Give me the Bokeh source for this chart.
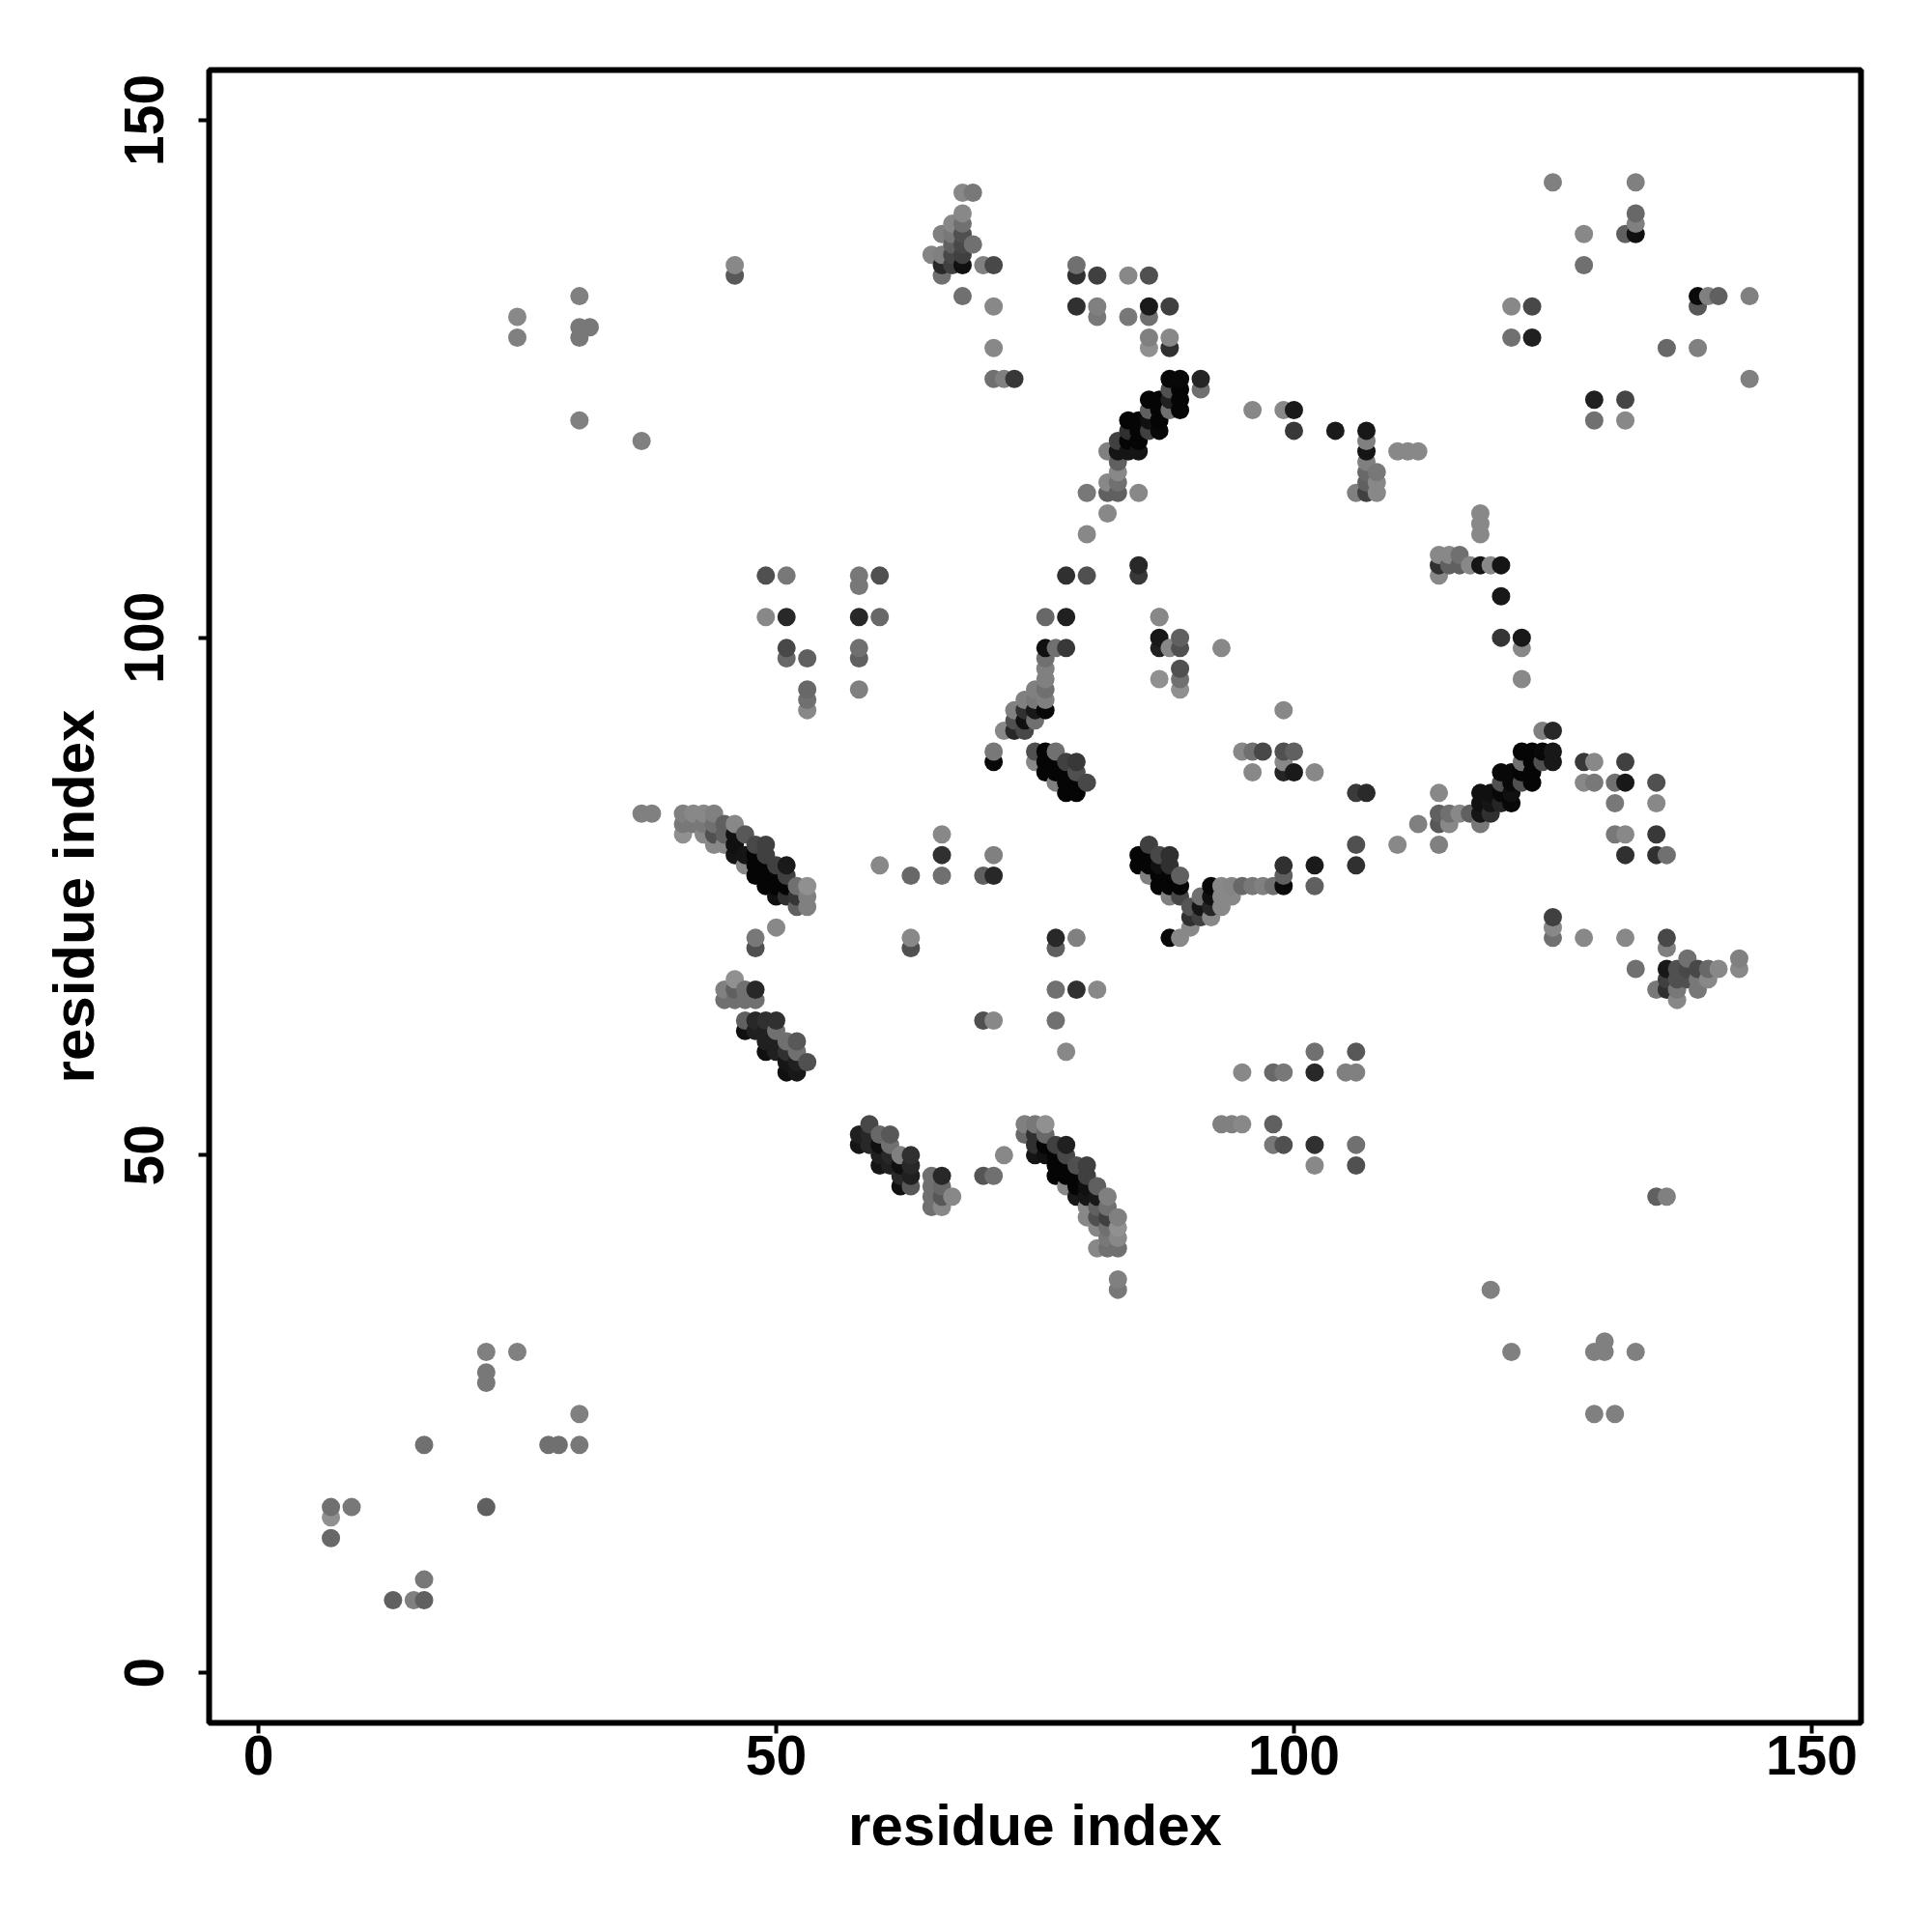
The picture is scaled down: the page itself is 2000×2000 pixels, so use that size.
import numpy as np
from bokeh.plotting import figure
from bokeh.models import FixedTicker, Range1d, ColumnDataSource
from bokeh.embed import file_html
from bokeh.resources import INLINE

tick_values = [0, 50, 100, 150]
axis_title = "residue index"

# lower left
x_sw = [7,7,7,9,13,15,16,16,16,22,22,22,22,25,28,29,31,31]
y_sw = [16,15,13,16,7,7,7,9,22,31,29,28,16,31,22,22,22,25]
g_sw = [0x70,0x90,0x68,0x78,0x60,0x80,0x60,0x78,0x70,0x80,0x78,0x78,0x60,0x80,0x70,0x70,0x78,0x80]
# upper left
x_nw = [25,25,31,31,31,32,31,37,46,46]
y_nw = [131,129,133,130,129,130,121,119,136,135]
g_nw = [0x88,0x80,0x80,0x78,0x78,0x78,0x80,0x80,0x88,0x58]
# band at 37-53 / 74-83
x_a1 = [37,38,41,42,43,44,41,42,43,44,45,46,41,43,44,45,46,47]
y_a1 = [83,83,83,83,83,83,82,82,82,82,82,82,81,81,81,81,81,81]
g_a1 = [0x80,0x80,0x80,0x88,0x88,0x80,0x78,0x78,0x78,0x70,0x60,0x88,0x90,0x88,0x50,0x60,0x10,0x58]
x_a2 = [44,45,46,48,49,46,47,48,49,47,48,49,50,51,48,49,50,51]
y_a2 = [80,80,80,80,80,79,79,79,79,78,78,78,78,78,77,77,77,77]
g_a2 = [0x88,0x88,0x10,0x48,0x40,0x15,0x15,0x05,0x40,0x88,0x05,0x05,0x40,0x1a,0x05,0x05,0x05,0x40]
x_a3 = [49,50,51,52,53,50,51,52,53,52,53]
y_a3 = [76,76,76,76,76,75,75,75,75,74,74]
g_a3 = [0x05,0x05,0x05,0x70,0x90,0x10,0x30,0x35,0x80,0x60,0x80]
# small groups 45-53 / 58-72
x_b1 = [50,48,48,45,46,46,47,48,45,46,47,48]
y_b1 = [72,71,70,66,67,66,66,66,65,65,65,65]
g_b1 = [0x88,0x78,0x50,0x80,0x90,0x60,0x70,0x28,0x70,0x70,0x70,0x70]
x_b2 = [47,48,49,50,47,48,49,50,49,50,51,52]
y_b2 = [63,63,63,63,62,62,62,62,61,61,61,61]
g_b2 = [0x60,0x28,0x30,0x30,0x10,0x20,0x20,0x70,0x20,0x20,0x70,0x58]
x_b3 = [49,50,51,52,51,52,53,51,52]
y_b3 = [60,60,60,60,59,59,59,58,58]
g_b3 = [0x10,0x20,0x30,0x70,0x15,0x20,0x50,0x10,0x18]
# column groups 49-60 / 93-106
x_c = [49,51,49,51,51,51,53,53,53,53,58,58,60,58,60,58,58,58]
y_c = [106,106,102,102,99,98,98,95,94,93,106,105,106,102,102,99,98,95]
g_c = [0x50,0x78,0x88,0x28,0x48,0x68,0x60,0x68,0x70,0x88,0x78,0x78,0x50,0x28,0x68,0x70,0x60,0x80]
# scattered 60-81 / 60-81
x_d = [60,63,66,66,66,70,71,71,63,63,77,77,79,77,79,81,77,78,70,71]
y_d = [78,77,81,79,77,77,79,77,71,70,71,70,71,66,66,66,63,60,63,63]
g_d = [0x88,0x68,0x88,0x30,0x70,0x60,0x80,0x28,0x88,0x50,0x28,0x60,0x80,0x70,0x30,0x88,0x70,0x88,0x50,0x88]
# band at 58-72 / 45-53
x_e1 = [58,58,59,59,59,60,60,60,60,61,61,61,61,62,62,62,62,63,63,63,63]
y_e1 = [52,51,53,52,51,52,51,50,49,52,51,50,49,50,49,48,47,50,49,48,47]
g_e1 = [0x20,0x15,0x48,0x28,0x28,0x68,0x10,0x20,0x15,0x58,0x70,0x28,0x20,0x80,0x10,0x28,0x10,0x30,0x28,0x20,0x58]
x_e2 = [65,65,65,65,66,66,66,66,67,70,71,72]
y_e2 = [48,47,46,45,48,47,46,45,46,48,48,50]
g_e2 = [0x70,0x70,0x70,0x70,0x28,0x68,0x58,0x88,0x88,0x55,0x70,0x88]
# band at 74-83 / 37-53
x_f1 = [74,74,75,75,75,75,76,76,76,76,77,77,77,77,78,78,78,78,78]
y_f1 = [53,52,53,52,51,50,53,52,51,50,51,50,49,48,51,50,49,48,47]
g_f1 = [0x80,0x68,0x78,0x30,0x30,0x15,0x90,0x68,0x05,0x10,0x40,0x05,0x05,0x05,0x20,0x48,0x05,0x05,0x88]
x_f2 = [79,79,79,79,80,80,80,80,80,80,81,81,81,81,81,81]
y_f2 = [49,48,47,46,49,48,47,46,45,44,47,46,45,44,43,41]
g_f2 = [0x50,0x05,0x05,0x18,0x40,0x40,0x10,0x15,0x88,0x88,0x60,0x18,0x60,0x50,0x88,0x88]
x_f3 = [82,82,82,82,82,82,83,83,83,83,83,83]
y_f3 = [46,45,44,43,42,41,44,43,42,41,38,37]
g_f3 = [0x80,0x70,0x40,0x70,0x78,0x70,0x80,0x90,0x88,0x70,0x80,0x78]
# top cluster 65-73 / 125-143
x_g1 = [68,69,68,68,67,66,67,68,67,68,69,65,66,67,68,66,67,68,66]
y_g1 = [143,143,141,140,140,139,139,139,138,138,138,137,137,137,137,136,136,136,135]
g_g1 = [0x88,0x78,0x88,0x70,0x88,0x80,0x78,0x50,0x60,0x48,0x70,0x85,0x80,0x48,0x40,0x28,0x40,0x10,0x70]
x_g2 = [70,71,68,71,71,71,72,73]
y_g2 = [136,136,133,132,128,125,125,125]
g_g2 = [0x80,0x48,0x70,0x88,0x88,0x70,0x80,0x38]
# 79-91 / 125-136
x_h1 = [79,79,81,84,86,79,81,86,88,81,84,86,86,88,86,88]
y_h1 = [136,135,135,135,135,132,132,132,132,131,131,131,129,129,128,128]
g_h1 = [0x70,0x30,0x40,0x88,0x50,0x30,0x80,0x1a,0x40,0x78,0x78,0x70,0x80,0x88,0x90,0x30]
# band at 80-91 / 110-125
x_h2 = [88,89,91,91,88,89,89,89,86,87,86,87,88,88,84,85,86,87]
y_h2 = [125,125,125,124,124,124,123,122,123,123,122,122,122,123,121,121,121,121]
g_h2 = [0x08,0x08,0x25,0x70,0x50,0x05,0x05,0x05,0x05,0x05,0x60,0x05,0x70,0x20,0x05,0x05,0x10,0x05]
x_h3 = [84,85,86,87,83,84,85,82,83,84,85,83,83,82,83,80,82,83,85,82,80]
y_h3 = [120,120,120,120,119,119,119,118,118,118,118,117,116,115,115,114,114,114,114,112,110]
g_h3 = [0x30,0x05,0x40,0x08,0x40,0x05,0x05,0x80,0x15,0x15,0x15,0x60,0x88,0x88,0x70,0x78,0x60,0x60,0x88,0x88,0x88]
# 76-87 / 98-107
x_i = [78,80,85,85,76,78,87,76,77,78,76,76,76,76,75,76,75,74,76,75,74,73]
y_i = [106,106,107,106,102,102,102,99,99,99,98,97,96,95,95,94,94,94,93,93,93,93]
g_i = [0x30,0x50,0x28,0x38,0x68,0x20,0x88,0x10,0x70,0x38,0x70,0x80,0x80,0x70,0x80,0x80,0x78,0x80,0x08,0x18,0x30,0x80]
x_j = [73,74,75,72,73,74,71,71,75,76,77,75,76,77,78,79,76,77,78,79,77,78,79,80,78,79]
y_j = [92,92,92,91,91,91,89,88,89,89,89,88,88,88,88,88,87,87,87,87,86,86,86,86,85,85]
g_j = [0x50,0x10,0x70,0x88,0x28,0x48,0x78,0x08,0x50,0x05,0x70,0x88,0x05,0x05,0x40,0x38,0x05,0x05,0x05,0x50,0x80,0x05,0x05,0x48,0x05,0x05]
# 85-93 / 95-102
x_k = [87,87,87,88,89,89,89,89,89,87,93]
y_k = [102,100,99,99,100,99,97,96,95,96,99]
g_k = [0x88,0x18,0x20,0x88,0x60,0x50,0x50,0x70,0x90,0x90,0x88]
# band at 85-102 / 71-80
x_l1 = [85,85,86,86,86,86,87,87,87,87,88,88,88,88,88,89,89,89,88,89]
y_l1 = [79,78,80,79,78,77,79,78,77,76,79,78,77,76,75,77,76,75,71,71]
g_l1 = [0x05,0x05,0x40,0x05,0x05,0x80,0x48,0x10,0x05,0x05,0x30,0x30,0x05,0x05,0x80,0x60,0x05,0x48,0x08,0x88]
x_l2 = [90,90,90,91,91,91,92,92,92,92,93,93,93,94,94,95,96,97,98,99,99,99]
y_l2 = [74,73,72,75,74,73,76,75,74,73,76,75,74,76,75,76,76,76,76,78,77,76]
g_l2 = [0x55,0x30,0x88,0x70,0x15,0x40,0x08,0x10,0x25,0x88,0x88,0x88,0x88,0x85,0x88,0x68,0x78,0x80,0x70,0x30,0x60,0x0a]
x_l3 = [102,102,106,106,110,114]
y_l3 = [78,76,80,78,80,80]
g_l3 = [0x1a,0x60,0x50,0x30,0x88,0x80]
# 95-107 / 85-93
x_m = [99,95,96,97,99,100,99,96,99,100,102,106,107]
y_m = [93,89,89,89,89,89,88,87,87,87,87,85,85]
g_m = [0x88,0x88,0x70,0x48,0x50,0x60,0x88,0x88,0x25,0x1a,0x88,0x3a,0x2a]
# 93-106 / 49-60
x_n = [102,106,95,98,99,102,105,106,93,94,95,98,98,99,102,106,102,106]
y_n = [60,60,58,58,58,58,58,58,53,53,53,53,51,51,51,51,49,49]
g_n = [0x70,0x58,0x88,0x68,0x78,0x28,0x80,0x80,0x80,0x80,0x88,0x60,0x78,0x50,0x30,0x70,0x88,0x50]
# 96-112 / 114-122
x_o = [96,99,100,100,104,107,107,107,107,107,108,108,107,108,106,110,111,112]
y_o = [122,122,122,120,120,120,119,118,117,116,116,115,115,114,114,118,118,118]
g_o = [0x88,0x88,0x1a,0x38,0x1a,0x18,0x80,0x15,0x80,0x68,0x78,0x88,0x60,0x88,0x80,0x88,0x88,0x88]
x_o2 = [107]
y_o2 = [114]
g_o2 = [0x40]
# 114-122 / 96-112
x_p = [118,118,118,114,115,116,114,115,116,117,118,119,120,114,120,120,122,122,122]
y_p = [112,111,110,108,108,108,107,107,107,107,107,107,107,106,104,100,100,99,96]
g_p = [0x88,0x88,0x88,0x88,0x88,0x70,0x30,0x60,0x60,0x88,0x15,0x88,0x15,0x88,0x18,0x35,0x18,0x88,0x88]
# band at 112-125 / 82-91
x_q1 = [112,114,114,114,115,115,116,117]
y_q1 = [82,85,83,82,83,82,83,83]
g_q1 = [0x80,0x88,0x60,0x58,0x70,0x88,0x88,0x60]
x_q2 = [118,118,118,118,119,119,119,120,120,120,120,121,121,121,121]
y_q2 = [85,84,83,82,85,84,83,87,86,85,84,87,86,85,84]
g_q2 = [0x10,0x10,0x15,0x78,0x10,0x15,0x30,0x08,0x50,0x08,0x25,0x08,0x08,0x10,0x08]
x_q3 = [122,122,122,122,123,123,123,123,124,124,124,125,125,125]
y_q3 = [89,88,87,86,89,88,87,86,91,89,88,91,89,88]
g_q3 = [0x05,0x70,0x05,0x50,0x05,0x05,0x05,0x05,0x80,0x08,0x50,0x28,0x18,0x18]
# 128-136 / 79-88
x_r = [128,129,132,128,129,131,132,135,131,135,131,132,135,132,135,136]
y_r = [88,88,88,86,86,86,86,86,84,84,81,81,81,79,79,79]
g_r = [0x38,0x88,0x40,0x88,0x78,0x70,0x18,0x50,0x78,0x88,0x78,0x88,0x38,0x30,0x30,0x70]
# 125-143 / 65-73
x_s1 = [125,125,125,128,132,136,136,133,136,136,136,135]
y_s1 = [73,72,71,71,71,71,70,68,68,67,66,66]
g_s1 = [0x40,0x88,0x70,0x88,0x88,0x48,0x80,0x70,0x18,0x40,0x30,0x78]
x_s2 = [137,137,137,137,138,138,138,139,139,139,140,140,141,143,143]
y_s2 = [68,67,66,65,69,68,67,68,67,66,68,67,68,69,68]
g_s2 = [0x50,0x50,0x78,0x88,0x70,0x48,0x50,0x48,0x78,0x78,0x68,0x88,0x88,0x80,0x88]
# upper right
x_t = [125,133,133,133,133,132,128,128,121,123,121,123,139,140,141,144,139,136,139,144,129,132,129,132]
y_t = [144,144,141,140,139,139,139,136,132,132,129,129,133,133,133,133,132,128,128,125,123,123,121,121]
g_t = [0x80,0x80,0x68,0x80,0x10,0x60,0x88,0x70,0x88,0x48,0x70,0x20,0x0a,0x80,0x60,0x80,0x58,0x68,0x80,0x80,0x20,0x45,0x70,0x88]
# lower right
x_u = [119,121,129,130,130,133,129,131,135,136]
y_u = [37,31,31,31,32,31,25,25,46,46]
g_u = [0x80,0x80,0x80,0x80,0x80,0x80,0x80,0x80,0x60,0x80]

groups = [
    (x_sw, y_sw, g_sw), (x_nw, y_nw, g_nw), (x_a1, y_a1, g_a1), (x_a2, y_a2, g_a2),
    (x_a3, y_a3, g_a3), (x_b1, y_b1, g_b1), (x_b2, y_b2, g_b2), (x_b3, y_b3, g_b3),
    (x_c, y_c, g_c), (x_d, y_d, g_d), (x_e1, y_e1, g_e1), (x_e2, y_e2, g_e2),
    (x_f1, y_f1, g_f1), (x_f2, y_f2, g_f2), (x_f3, y_f3, g_f3), (x_g1, y_g1, g_g1),
    (x_g2, y_g2, g_g2), (x_h1, y_h1, g_h1), (x_h2, y_h2, g_h2), (x_h3, y_h3, g_h3),
    (x_i, y_i, g_i), (x_j, y_j, g_j), (x_k, y_k, g_k), (x_l1, y_l1, g_l1),
    (x_l2, y_l2, g_l2), (x_l3, y_l3, g_l3), (x_m, y_m, g_m), (x_n, y_n, g_n),
    (x_o, y_o, g_o), (x_o2, y_o2, g_o2), (x_p, y_p, g_p), (x_q1, y_q1, g_q1),
    (x_q2, y_q2, g_q2), (x_q3, y_q3, g_q3), (x_r, y_r, g_r), (x_s1, y_s1, g_s1),
    (x_s2, y_s2, g_s2), (x_t, y_t, g_t), (x_u, y_u, g_u),
]
for a, b, c in groups:
    assert len(a) == len(b) == len(c), (a, b, c)

xs = np.concatenate([g[0] for g in groups])
ys = np.concatenate([g[1] for g in groups])
gs = np.concatenate([g[2] for g in groups])
order = np.lexsort((ys, xs))
colors = ["#%02x%02x%02x" % (int(v), int(v), int(v)) for v in gs[order]]
src = ColumnDataSource(dict(x=xs[order], y=ys[order], c=colors))

p = figure(frame_width=1710, frame_height=1711,
           x_range=Range1d(-4.76, 154.76), y_range=Range1d(-4.85, 154.85),
           output_backend="svg", toolbar_location=None,
           min_border_left=216, min_border_right=50, min_border_top=72, min_border_bottom=200,
           background_fill_color="white", border_fill_color="white")
p.scatter("x", "y", source=src, size=19, fill_color="c", line_color=None)

p.grid.visible = False
p.outline_line_color = "black"
p.outline_line_width = 6

for ax in (p.xaxis[0], p.yaxis[0]):
    ax.ticker = FixedTicker(ticks=tick_values)
    ax.axis_label = axis_title
    ax.axis_line_color = None
    ax.minor_tick_line_color = None
    ax.major_tick_line_color = "black"
    ax.major_tick_line_width = 4
    ax.major_tick_in = 0
    ax.major_tick_out = 11
    ax.major_label_text_font = "Liberation Sans"
    ax.major_label_text_font_style = "bold"
    ax.major_label_text_font_size = "57px"
    ax.major_label_text_color = "black"
    ax.axis_label_text_font = "Liberation Sans"
    ax.axis_label_text_font_style = "bold"
    ax.axis_label_text_font_size = "60px"
    ax.axis_label_text_color = "black"
p.yaxis[0].major_label_orientation = "vertical"
p.xaxis[0].major_label_standoff = 2
p.xaxis[0].axis_label_standoff = 16
p.yaxis[0].major_label_standoff = 36
p.yaxis[0].axis_label_standoff = 17

open("out.html", "w").write(file_html(p, INLINE))
